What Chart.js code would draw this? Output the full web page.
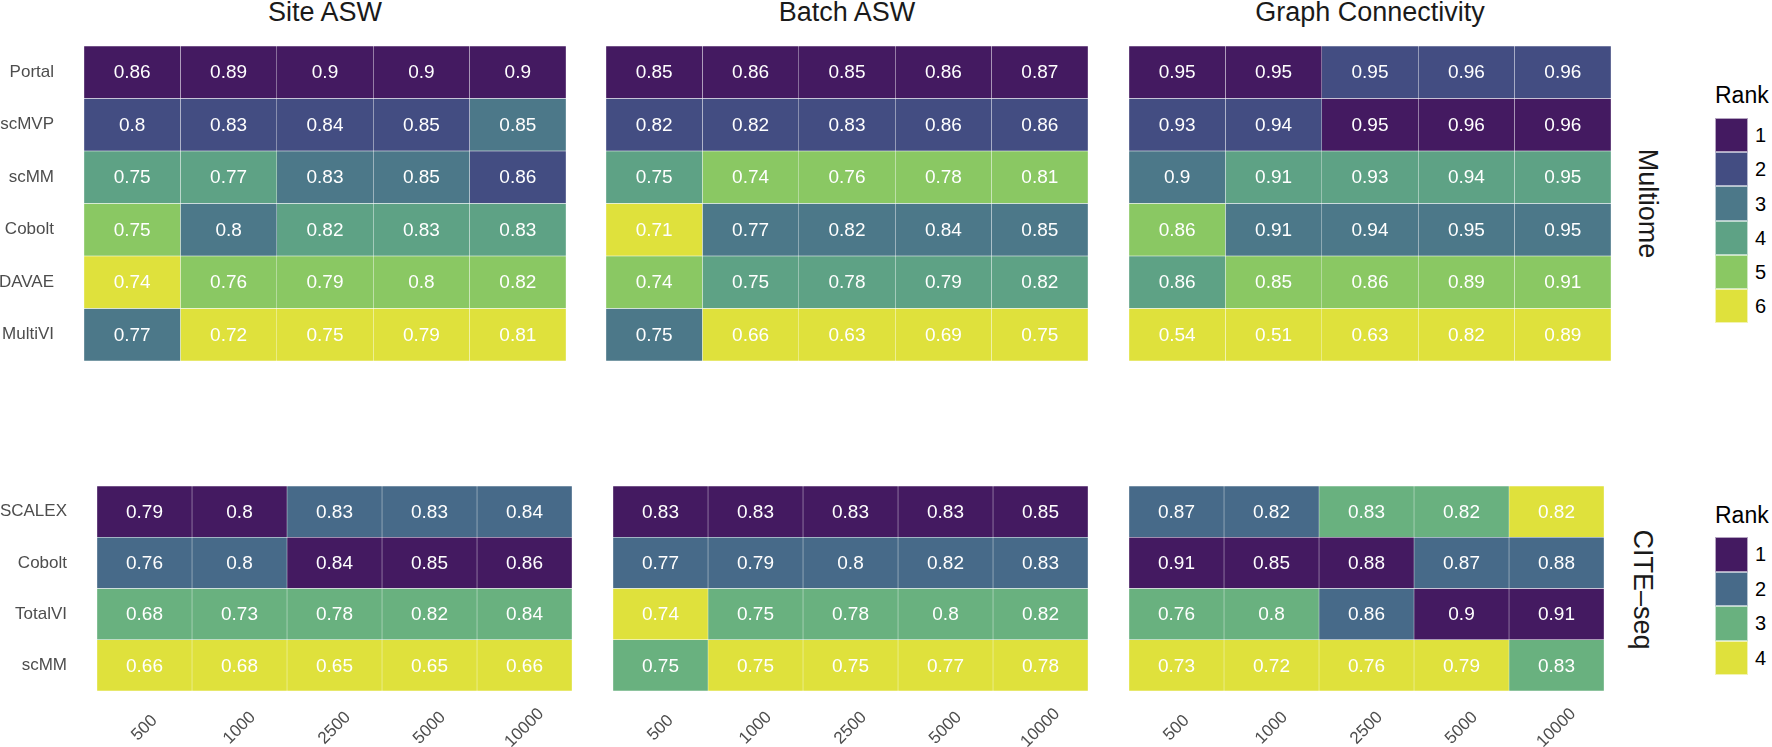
<!DOCTYPE html>
<html>
<head>
<meta charset="utf-8">
<script src="https://cdn.jsdelivr.net/npm/chart.js@4.4.1/dist/chart.umd.min.js"></script>
<style>
    body { margin: 0; background: #fff; font-family: "Liberation Sans", Arial, sans-serif; }
    #page { position: relative; width: 1772px; height: 747px; overflow: hidden; }
    .panel { position: absolute; }
    .title { position: absolute; font-size: 27px; line-height: 27px; color: #1a1a1a; text-align: center; white-space: nowrap; }
    .strip { position: absolute; font-size: 27px; line-height: 27px; color: #1a1a1a; text-align: center; white-space: nowrap; transform: rotate(90deg); }
    .legend-title { position: absolute; font-size: 23px; line-height: 23px; color: #000; }
    .legend-box { position: absolute; width: 33px; box-sizing: border-box; border: 0.5px solid rgba(255,255,255,0.6); }
    .legend-label { position: absolute; font-size: 20px; line-height: 20px; color: #000; }
</style>
</head>
<body>
<div id="page"></div>
<script>
// Categories
const sizes = ['500', '1000', '2500', '5000', '10000'];
const metrics = ['Site ASW', 'Batch ASW', 'Graph Connectivity'];
const multiomeMethods = ['Portal', 'scMVP', 'scMM', 'Cobolt', 'DAVAE', 'MultiVI'];
const citeMethods = ['SCALEX', 'Cobolt', 'TotalVI', 'scMM'];

// Multiome values (rows = methods, columns = sizes)
const multiomeSiteASW = [
    [0.86, 0.89, 0.9, 0.9, 0.9],
    [0.8, 0.83, 0.84, 0.85, 0.85],
    [0.75, 0.77, 0.83, 0.85, 0.86],
    [0.75, 0.8, 0.82, 0.83, 0.83],
    [0.74, 0.76, 0.79, 0.8, 0.82],
    [0.77, 0.72, 0.75, 0.79, 0.81]
];
const multiomeSiteRank = [
    [1, 1, 1, 1, 1],
    [2, 2, 2, 2, 3],
    [4, 4, 3, 3, 2],
    [5, 3, 4, 4, 4],
    [6, 5, 5, 5, 5],
    [3, 6, 6, 6, 6]
];
const multiomeBatchASW = [
    [0.85, 0.86, 0.85, 0.86, 0.87],
    [0.82, 0.82, 0.83, 0.86, 0.86],
    [0.75, 0.74, 0.76, 0.78, 0.81],
    [0.71, 0.77, 0.82, 0.84, 0.85],
    [0.74, 0.75, 0.78, 0.79, 0.82],
    [0.75, 0.66, 0.63, 0.69, 0.75]
];
const multiomeBatchRank = [
    [1, 1, 1, 1, 1],
    [2, 2, 2, 2, 2],
    [4, 5, 5, 5, 5],
    [6, 3, 3, 3, 3],
    [5, 4, 4, 4, 4],
    [3, 6, 6, 6, 6]
];
const multiomeGraphConn = [
    [0.95, 0.95, 0.95, 0.96, 0.96],
    [0.93, 0.94, 0.95, 0.96, 0.96],
    [0.9, 0.91, 0.93, 0.94, 0.95],
    [0.86, 0.91, 0.94, 0.95, 0.95],
    [0.86, 0.85, 0.86, 0.89, 0.91],
    [0.54, 0.51, 0.63, 0.82, 0.89]
];
const multiomeGraphRank = [
    [1, 1, 2, 2, 2],
    [2, 2, 1, 1, 1],
    [3, 4, 4, 4, 4],
    [5, 3, 3, 3, 3],
    [4, 5, 5, 5, 5],
    [6, 6, 6, 6, 6]
];

// CITE-seq values
const citeSiteASW = [
    [0.79, 0.8, 0.83, 0.83, 0.84],
    [0.76, 0.8, 0.84, 0.85, 0.86],
    [0.68, 0.73, 0.78, 0.82, 0.84],
    [0.66, 0.68, 0.65, 0.65, 0.66]
];
const citeSiteRank = [
    [1, 1, 2, 2, 2],
    [2, 2, 1, 1, 1],
    [3, 3, 3, 3, 3],
    [4, 4, 4, 4, 4]
];
const citeBatchASW = [
    [0.83, 0.83, 0.83, 0.83, 0.85],
    [0.77, 0.79, 0.8, 0.82, 0.83],
    [0.74, 0.75, 0.78, 0.8, 0.82],
    [0.75, 0.75, 0.75, 0.77, 0.78]
];
const citeBatchRank = [
    [1, 1, 1, 1, 1],
    [2, 2, 2, 2, 2],
    [4, 3, 3, 3, 3],
    [3, 4, 4, 4, 4]
];
const citeGraphConn = [
    [0.87, 0.82, 0.83, 0.82, 0.82],
    [0.91, 0.85, 0.88, 0.87, 0.88],
    [0.76, 0.8, 0.86, 0.9, 0.91],
    [0.73, 0.72, 0.76, 0.79, 0.83]
];
const citeGraphRank = [
    [2, 2, 3, 3, 4],
    [1, 1, 1, 2, 2],
    [3, 3, 2, 1, 1],
    [4, 4, 4, 4, 3]
];

// Rank colours
const rankColors6 = ['#441A61', '#434D82', '#4C7889', '#5EA285', '#8AC863', '#DFE13C'];
const rankColors4 = ['#441A61', '#476A89', '#69B17F', '#DFE13C'];

const FONT = '"Liberation Sans", Arial, sans-serif';
const page = document.getElementById('page');

function addDiv(cls, text, style) {
    const d = document.createElement('div');
    d.className = cls;
    if (text !== null) d.textContent = text;
    Object.assign(d.style, style);
    page.appendChild(d);
    return d;
}

// Draw one heatmap panel as floating horizontal bars
function makeHeatmap(box, methods, values, ranks, palette, showY, axisWidth, showX) {
    const holder = addDiv('panel', null, {
        left: box.left + 'px', top: box.top + 'px',
        width: box.width + 'px', height: box.height + 'px'
    });
    const canvas = document.createElement('canvas');
    holder.appendChild(canvas);

    const datasets = sizes.map((s, c) => ({
        label: s,
        data: methods.map(() => [c, c + 1]),
        backgroundColor: methods.map((m, r) => palette[ranks[r][c] - 1]),
        borderColor: 'rgba(255,255,255,0.45)',
        borderWidth: 0.5,
        borderSkipped: false,
        grouped: false,
        barPercentage: 1,
        categoryPercentage: 1
    }));

    const labelPlugin = {
        id: 'cellLabels',
        afterDatasetsDraw(chart) {
            const ctx = chart.ctx;
            ctx.save();
            ctx.fillStyle = '#fff';
            ctx.font = '19px ' + FONT;
            ctx.textAlign = 'center';
            ctx.textBaseline = 'middle';
            chart.data.datasets.forEach((ds, c) => {
                chart.getDatasetMeta(c).data.forEach((bar, r) => {
                    ctx.fillText(String(values[r][c]), (bar.x + bar.base) / 2, bar.y + 1);
                });
            });
            ctx.restore();
        },
        afterDraw(chart) {
            if (!showX) return;
            const ctx = chart.ctx;
            const xs = chart.scales.x;
            ctx.save();
            ctx.fillStyle = '#4D4D4D';
            ctx.font = '17px ' + FONT;
            ctx.textAlign = 'center';
            ctx.textBaseline = 'middle';
            sizes.forEach((s, c) => {
                ctx.save();
                ctx.translate(xs.getPixelForValue(c + 0.5), chart.chartArea.bottom + 37);
                ctx.rotate(-Math.PI / 4);
                ctx.fillText(s, 0, 0);
                ctx.restore();
            });
            ctx.restore();
        }
    };

    new Chart(canvas, {
        type: 'bar',
        data: { labels: methods, datasets: datasets },
        options: {
            indexAxis: 'y',
            responsive: true,
            maintainAspectRatio: false,
            animation: false,
            layout: { padding: { bottom: showX ? 56 : 0 } },
            scales: {
                x: { type: 'linear', min: 0, max: sizes.length, display: false },
                y: {
                    type: 'category',
                    display: showY,
                    grid: { display: false, drawTicks: false },
                    border: { display: false },
                    ticks: { padding: 30, color: '#4D4D4D', font: { family: FONT, size: 17 } },
                    afterFit(scale) {
                        // fixed axis width, no extra vertical padding from tick labels
                        scale.width = axisWidth;
                        scale.paddingTop = 0;
                        scale.paddingBottom = 0;
                    }
                }
            },
            plugins: { legend: { display: false }, tooltip: { enabled: false } }
        },
        plugins: [labelPlugin]
    });
}

// Top row: Multiome
const topBoxes = [
    { left: 0, top: 46, width: 566, height: 315, axis: 84 },
    { left: 606, top: 46, width: 482, height: 315, axis: 0 },
    { left: 1129, top: 46, width: 482, height: 315, axis: 0 }
];
const topData = [
    [multiomeSiteASW, multiomeSiteRank],
    [multiomeBatchASW, multiomeBatchRank],
    [multiomeGraphConn, multiomeGraphRank]
];
topBoxes.forEach((b, i) => {
    makeHeatmap(b, multiomeMethods, topData[i][0], topData[i][1], rankColors6, i === 0, b.axis, false);
    const cx = b.left + b.axis + (b.width - b.axis) / 2;
    addDiv('title', metrics[i], { left: (cx - 200) + 'px', top: '-1px', width: '400px' });
});

// Bottom row: CITE-seq
const bottomBoxes = [
    { left: 0, top: 486, width: 572, height: 261, axis: 97 },
    { left: 613, top: 486, width: 475, height: 261, axis: 0 },
    { left: 1129, top: 486, width: 475, height: 261, axis: 0 }
];
const bottomData = [
    [citeSiteASW, citeSiteRank],
    [citeBatchASW, citeBatchRank],
    [citeGraphConn, citeGraphRank]
];
bottomBoxes.forEach((b, i) => {
    makeHeatmap(b, citeMethods, bottomData[i][0], bottomData[i][1], rankColors4, i === 0, b.axis, true);
});

// Strip labels
addDiv('strip', 'Multiome', { left: (1647 - 100) + 'px', top: (203.5 - 13.5) + 'px', width: '200px' });
addDiv('strip', 'CITE–seq', { left: (1642 - 100) + 'px', top: (589 - 13.5) + 'px', width: '200px' });

// Legends
function makeLegend(titleTop, boxTop, boxH, palette) {
    addDiv('legend-title', 'Rank', { left: '1715px', top: titleTop + 'px' });
    palette.forEach((col, i) => {
        addDiv('legend-box', null, {
            left: '1715px', top: (boxTop + i * boxH) + 'px',
            height: boxH + 'px', background: col
        });
        addDiv('legend-label', String(i + 1), {
            left: '1755px', top: (boxTop + i * boxH + boxH / 2 - 10) + 'px'
        });
    });
}
makeLegend(84, 118, 34.2, rankColors6);
makeLegend(504, 537, 34.5, rankColors4);
</script>
</body>
</html>
